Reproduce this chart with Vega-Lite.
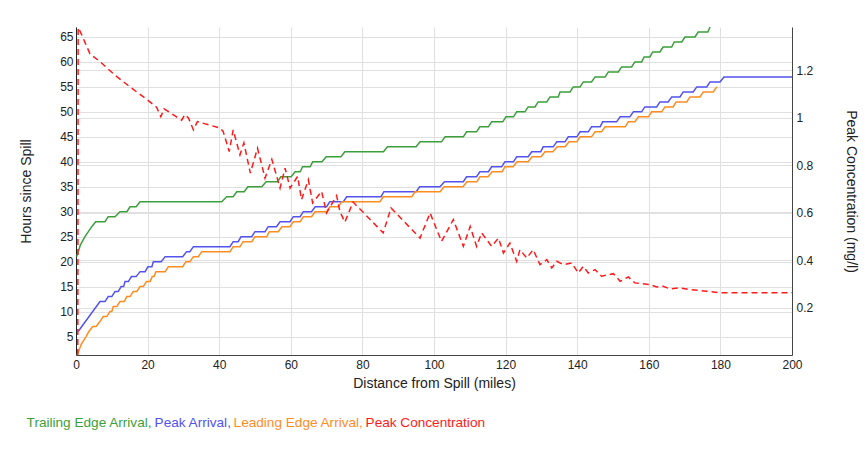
{
  "$schema": "https://vega.github.io/schema/vega-lite/v6.json",
  "width": 716,
  "height": 328,
  "autosize": {"type": "none"},
  "padding": {"left": 76, "top": 27, "right": 75, "bottom": 101},
  "background": "white",
  "config": {
    "font": "Liberation Sans",
    "view": {"stroke": null},
    "axis": {
      "labelFont": "Liberation Sans",
      "labelFontSize": 12,
      "labelColor": "#222",
      "titleFont": "Liberation Sans",
      "titleFontSize": 14,
      "titleFontWeight": "normal",
      "titleColor": "#222",
      "ticks": false,
      "domainColor": "#444",
      "gridColor": "#e0e0e0",
      "gridOpacity": 1
    }
  },
  "datasets": {
    "arr": [
      {"s":"Trailing Edge Arrival","m":0.2,"h":21},{"s":"Trailing Edge Arrival","m":1.2,"h":23.3},{"s":"Trailing Edge Arrival","m":2.5,"h":25},{"s":"Trailing Edge Arrival","m":4.4,"h":27},{"s":"Trailing Edge Arrival","m":5.5,"h":28},{"s":"Trailing Edge Arrival","m":8.1,"h":28},{"s":"Trailing Edge Arrival","m":9,"h":29},{"s":"Trailing Edge Arrival","m":10.9,"h":29},{"s":"Trailing Edge Arrival","m":12.3,"h":30},{"s":"Trailing Edge Arrival","m":14.2,"h":30},{"s":"Trailing Edge Arrival","m":15.1,"h":31},{"s":"Trailing Edge Arrival","m":16.8,"h":31},{"s":"Trailing Edge Arrival","m":17.9,"h":32},{"s":"Trailing Edge Arrival","m":40.7,"h":32},{"s":"Trailing Edge Arrival","m":42.1,"h":33},{"s":"Trailing Edge Arrival","m":43.9,"h":33},{"s":"Trailing Edge Arrival","m":44.9,"h":34},{"s":"Trailing Edge Arrival","m":47,"h":34},{"s":"Trailing Edge Arrival","m":48,"h":35},{"s":"Trailing Edge Arrival","m":51.9,"h":35},{"s":"Trailing Edge Arrival","m":53.1,"h":36},{"s":"Trailing Edge Arrival","m":56.3,"h":36},{"s":"Trailing Edge Arrival","m":57.2,"h":37},{"s":"Trailing Edge Arrival","m":60.1,"h":37},{"s":"Trailing Edge Arrival","m":61.2,"h":38},{"s":"Trailing Edge Arrival","m":62.6,"h":38},{"s":"Trailing Edge Arrival","m":63.3,"h":39},{"s":"Trailing Edge Arrival","m":65.4,"h":39},{"s":"Trailing Edge Arrival","m":66.1,"h":40},{"s":"Trailing Edge Arrival","m":68.7,"h":40},{"s":"Trailing Edge Arrival","m":69.9,"h":41},{"s":"Trailing Edge Arrival","m":74,"h":41},{"s":"Trailing Edge Arrival","m":75.1,"h":42},{"s":"Trailing Edge Arrival","m":85.9,"h":42},{"s":"Trailing Edge Arrival","m":87,"h":43},{"s":"Trailing Edge Arrival","m":95,"h":43},{"s":"Trailing Edge Arrival","m":96.1,"h":44},{"s":"Trailing Edge Arrival","m":102.1,"h":44},{"s":"Trailing Edge Arrival","m":103.1,"h":45},{"s":"Trailing Edge Arrival","m":108.2,"h":45},{"s":"Trailing Edge Arrival","m":109.1,"h":46},{"s":"Trailing Edge Arrival","m":111.9,"h":46},{"s":"Trailing Edge Arrival","m":112.8,"h":47},{"s":"Trailing Edge Arrival","m":115.2,"h":47},{"s":"Trailing Edge Arrival","m":116.1,"h":48},{"s":"Trailing Edge Arrival","m":119.2,"h":48},{"s":"Trailing Edge Arrival","m":120.1,"h":49},{"s":"Trailing Edge Arrival","m":122.2,"h":49},{"s":"Trailing Edge Arrival","m":123.1,"h":50},{"s":"Trailing Edge Arrival","m":125.4,"h":50},{"s":"Trailing Edge Arrival","m":126.3,"h":51},{"s":"Trailing Edge Arrival","m":128.2,"h":51},{"s":"Trailing Edge Arrival","m":129.1,"h":52},{"s":"Trailing Edge Arrival","m":131.5,"h":52},{"s":"Trailing Edge Arrival","m":132.4,"h":53},{"s":"Trailing Edge Arrival","m":134.7,"h":53},{"s":"Trailing Edge Arrival","m":135.2,"h":54},{"s":"Trailing Edge Arrival","m":138,"h":54},{"s":"Trailing Edge Arrival","m":138.9,"h":55},{"s":"Trailing Edge Arrival","m":140.8,"h":55},{"s":"Trailing Edge Arrival","m":141.7,"h":56},{"s":"Trailing Edge Arrival","m":144,"h":56},{"s":"Trailing Edge Arrival","m":145,"h":57},{"s":"Trailing Edge Arrival","m":147.8,"h":57},{"s":"Trailing Edge Arrival","m":148.7,"h":58},{"s":"Trailing Edge Arrival","m":151.5,"h":58},{"s":"Trailing Edge Arrival","m":152.4,"h":59},{"s":"Trailing Edge Arrival","m":155.2,"h":59},{"s":"Trailing Edge Arrival","m":156.1,"h":60},{"s":"Trailing Edge Arrival","m":158,"h":60},{"s":"Trailing Edge Arrival","m":158.7,"h":61},{"s":"Trailing Edge Arrival","m":160.3,"h":61},{"s":"Trailing Edge Arrival","m":161.1,"h":62},{"s":"Trailing Edge Arrival","m":163.1,"h":62},{"s":"Trailing Edge Arrival","m":164,"h":63},{"s":"Trailing Edge Arrival","m":166.4,"h":63},{"s":"Trailing Edge Arrival","m":167.1,"h":64},{"s":"Trailing Edge Arrival","m":169.2,"h":64},{"s":"Trailing Edge Arrival","m":170.1,"h":65},{"s":"Trailing Edge Arrival","m":172.9,"h":65},{"s":"Trailing Edge Arrival","m":173.8,"h":66},{"s":"Trailing Edge Arrival","m":176.5,"h":66},{"s":"Trailing Edge Arrival","m":177.1,"h":67},
      {"s":"Peak Arrival","m":0.6,"h":6},{"s":"Peak Arrival","m":6.7,"h":12},{"s":"Peak Arrival","m":8.1,"h":12},{"s":"Peak Arrival","m":9,"h":13},{"s":"Peak Arrival","m":10,"h":13},{"s":"Peak Arrival","m":10.9,"h":14},{"s":"Peak Arrival","m":11.8,"h":14},{"s":"Peak Arrival","m":12.6,"h":15},{"s":"Peak Arrival","m":13.3,"h":15},{"s":"Peak Arrival","m":13.7,"h":16},{"s":"Peak Arrival","m":14.6,"h":16},{"s":"Peak Arrival","m":15.5,"h":17},{"s":"Peak Arrival","m":16.8,"h":17},{"s":"Peak Arrival","m":17.9,"h":18},{"s":"Peak Arrival","m":19.3,"h":18},{"s":"Peak Arrival","m":20.1,"h":19},{"s":"Peak Arrival","m":21.2,"h":19},{"s":"Peak Arrival","m":21.6,"h":20},{"s":"Peak Arrival","m":23.8,"h":20},{"s":"Peak Arrival","m":24.9,"h":21},{"s":"Peak Arrival","m":29.8,"h":21},{"s":"Peak Arrival","m":30.9,"h":22},{"s":"Peak Arrival","m":31.8,"h":22},{"s":"Peak Arrival","m":32.8,"h":23},{"s":"Peak Arrival","m":43,"h":23},{"s":"Peak Arrival","m":43.9,"h":24},{"s":"Peak Arrival","m":45.3,"h":24},{"s":"Peak Arrival","m":46.1,"h":25},{"s":"Peak Arrival","m":49.1,"h":25},{"s":"Peak Arrival","m":50,"h":26},{"s":"Peak Arrival","m":52.8,"h":26},{"s":"Peak Arrival","m":53.7,"h":27},{"s":"Peak Arrival","m":56,"h":27},{"s":"Peak Arrival","m":57,"h":28},{"s":"Peak Arrival","m":59.8,"h":28},{"s":"Peak Arrival","m":60.7,"h":29},{"s":"Peak Arrival","m":62.6,"h":29},{"s":"Peak Arrival","m":63.5,"h":30},{"s":"Peak Arrival","m":65.8,"h":30},{"s":"Peak Arrival","m":66.8,"h":31},{"s":"Peak Arrival","m":70,"h":31},{"s":"Peak Arrival","m":70.9,"h":32},{"s":"Peak Arrival","m":74.7,"h":32},{"s":"Peak Arrival","m":75.6,"h":33},{"s":"Peak Arrival","m":85.2,"h":33},{"s":"Peak Arrival","m":86,"h":34},{"s":"Peak Arrival","m":95,"h":34},{"s":"Peak Arrival","m":96,"h":35},{"s":"Peak Arrival","m":101.7,"h":35},{"s":"Peak Arrival","m":102.9,"h":36},{"s":"Peak Arrival","m":108.2,"h":36},{"s":"Peak Arrival","m":109.1,"h":37},{"s":"Peak Arrival","m":111.9,"h":37},{"s":"Peak Arrival","m":112.8,"h":38},{"s":"Peak Arrival","m":115.2,"h":38},{"s":"Peak Arrival","m":116.1,"h":39},{"s":"Peak Arrival","m":118.9,"h":39},{"s":"Peak Arrival","m":119.8,"h":40},{"s":"Peak Arrival","m":122.2,"h":40},{"s":"Peak Arrival","m":123.1,"h":41},{"s":"Peak Arrival","m":126.3,"h":41},{"s":"Peak Arrival","m":127.3,"h":42},{"s":"Peak Arrival","m":129.8,"h":42},{"s":"Peak Arrival","m":130.5,"h":43},{"s":"Peak Arrival","m":133.3,"h":43},{"s":"Peak Arrival","m":134.3,"h":44},{"s":"Peak Arrival","m":136.6,"h":44},{"s":"Peak Arrival","m":137.5,"h":45},{"s":"Peak Arrival","m":139.9,"h":45},{"s":"Peak Arrival","m":140.8,"h":46},{"s":"Peak Arrival","m":143.1,"h":46},{"s":"Peak Arrival","m":144,"h":47},{"s":"Peak Arrival","m":146.4,"h":47},{"s":"Peak Arrival","m":147.1,"h":48},{"s":"Peak Arrival","m":151,"h":48},{"s":"Peak Arrival","m":152,"h":49},{"s":"Peak Arrival","m":154.7,"h":49},{"s":"Peak Arrival","m":155.7,"h":50},{"s":"Peak Arrival","m":158,"h":50},{"s":"Peak Arrival","m":158.9,"h":51},{"s":"Peak Arrival","m":162.2,"h":51},{"s":"Peak Arrival","m":163.1,"h":52},{"s":"Peak Arrival","m":165.4,"h":52},{"s":"Peak Arrival","m":166.4,"h":53},{"s":"Peak Arrival","m":168.7,"h":53},{"s":"Peak Arrival","m":169.6,"h":54},{"s":"Peak Arrival","m":172.4,"h":54},{"s":"Peak Arrival","m":173.4,"h":55},{"s":"Peak Arrival","m":176.2,"h":55},{"s":"Peak Arrival","m":177.1,"h":56},{"s":"Peak Arrival","m":179.9,"h":56},{"s":"Peak Arrival","m":181,"h":57},{"s":"Peak Arrival","m":200,"h":57},
      {"s":"Leading Edge Arrival","m":0.3,"h":1.3},{"s":"Leading Edge Arrival","m":0.8,"h":2.2},{"s":"Leading Edge Arrival","m":1.5,"h":3.5},{"s":"Leading Edge Arrival","m":2.8,"h":5},{"s":"Leading Edge Arrival","m":3.6,"h":6},{"s":"Leading Edge Arrival","m":4.7,"h":7},{"s":"Leading Edge Arrival","m":5.6,"h":7},{"s":"Leading Edge Arrival","m":6.7,"h":8},{"s":"Leading Edge Arrival","m":7.6,"h":9},{"s":"Leading Edge Arrival","m":8.6,"h":9},{"s":"Leading Edge Arrival","m":9.5,"h":10},{"s":"Leading Edge Arrival","m":10,"h":10},{"s":"Leading Edge Arrival","m":10.4,"h":11},{"s":"Leading Edge Arrival","m":11.4,"h":11},{"s":"Leading Edge Arrival","m":12.3,"h":12},{"s":"Leading Edge Arrival","m":13.5,"h":12},{"s":"Leading Edge Arrival","m":14.2,"h":13},{"s":"Leading Edge Arrival","m":15.1,"h":13},{"s":"Leading Edge Arrival","m":16,"h":14},{"s":"Leading Edge Arrival","m":17,"h":14},{"s":"Leading Edge Arrival","m":17.9,"h":15},{"s":"Leading Edge Arrival","m":18.8,"h":15},{"s":"Leading Edge Arrival","m":19.7,"h":16},{"s":"Leading Edge Arrival","m":20.7,"h":16},{"s":"Leading Edge Arrival","m":21.3,"h":17},{"s":"Leading Edge Arrival","m":21.8,"h":17},{"s":"Leading Edge Arrival","m":22.3,"h":18},{"s":"Leading Edge Arrival","m":24.9,"h":18},{"s":"Leading Edge Arrival","m":25.8,"h":19},{"s":"Leading Edge Arrival","m":29.8,"h":19},{"s":"Leading Edge Arrival","m":30.7,"h":20},{"s":"Leading Edge Arrival","m":31.8,"h":20},{"s":"Leading Edge Arrival","m":32.8,"h":21},{"s":"Leading Edge Arrival","m":34.2,"h":21},{"s":"Leading Edge Arrival","m":35.1,"h":22},{"s":"Leading Edge Arrival","m":43,"h":22},{"s":"Leading Edge Arrival","m":43.9,"h":23},{"s":"Leading Edge Arrival","m":45.8,"h":23},{"s":"Leading Edge Arrival","m":46.7,"h":24},{"s":"Leading Edge Arrival","m":49.1,"h":24},{"s":"Leading Edge Arrival","m":50,"h":25},{"s":"Leading Edge Arrival","m":53.3,"h":25},{"s":"Leading Edge Arrival","m":54,"h":26},{"s":"Leading Edge Arrival","m":56.5,"h":26},{"s":"Leading Edge Arrival","m":57.5,"h":27},{"s":"Leading Edge Arrival","m":59.8,"h":27},{"s":"Leading Edge Arrival","m":60.7,"h":28},{"s":"Leading Edge Arrival","m":62.6,"h":28},{"s":"Leading Edge Arrival","m":63.5,"h":29},{"s":"Leading Edge Arrival","m":65.8,"h":29},{"s":"Leading Edge Arrival","m":66.8,"h":30},{"s":"Leading Edge Arrival","m":70,"h":30},{"s":"Leading Edge Arrival","m":70.9,"h":31},{"s":"Leading Edge Arrival","m":73.3,"h":31},{"s":"Leading Edge Arrival","m":74.2,"h":32},{"s":"Leading Edge Arrival","m":84.9,"h":32},{"s":"Leading Edge Arrival","m":85.8,"h":33},{"s":"Leading Edge Arrival","m":93.8,"h":33},{"s":"Leading Edge Arrival","m":94.7,"h":34},{"s":"Leading Edge Arrival","m":101.7,"h":34},{"s":"Leading Edge Arrival","m":102.8,"h":35},{"s":"Leading Edge Arrival","m":108.1,"h":35},{"s":"Leading Edge Arrival","m":109.2,"h":36},{"s":"Leading Edge Arrival","m":112,"h":36},{"s":"Leading Edge Arrival","m":112.8,"h":37},{"s":"Leading Edge Arrival","m":115.1,"h":37},{"s":"Leading Edge Arrival","m":116.2,"h":38},{"s":"Leading Edge Arrival","m":119,"h":38},{"s":"Leading Edge Arrival","m":119.8,"h":39},{"s":"Leading Edge Arrival","m":122.1,"h":39},{"s":"Leading Edge Arrival","m":123.2,"h":40},{"s":"Leading Edge Arrival","m":126.3,"h":40},{"s":"Leading Edge Arrival","m":127.4,"h":41},{"s":"Leading Edge Arrival","m":129.9,"h":41},{"s":"Leading Edge Arrival","m":131,"h":42},{"s":"Leading Edge Arrival","m":133.2,"h":42},{"s":"Leading Edge Arrival","m":134.4,"h":43},{"s":"Leading Edge Arrival","m":136.6,"h":43},{"s":"Leading Edge Arrival","m":137.7,"h":44},{"s":"Leading Edge Arrival","m":139.9,"h":44},{"s":"Leading Edge Arrival","m":140.8,"h":45},{"s":"Leading Edge Arrival","m":144,"h":45},{"s":"Leading Edge Arrival","m":145,"h":46},{"s":"Leading Edge Arrival","m":146.8,"h":46},{"s":"Leading Edge Arrival","m":147.8,"h":47},{"s":"Leading Edge Arrival","m":153.4,"h":47},{"s":"Leading Edge Arrival","m":154.3,"h":48},{"s":"Leading Edge Arrival","m":156.1,"h":48},{"s":"Leading Edge Arrival","m":157.1,"h":49},{"s":"Leading Edge Arrival","m":159.9,"h":49},{"s":"Leading Edge Arrival","m":160.8,"h":50},{"s":"Leading Edge Arrival","m":163.6,"h":50},{"s":"Leading Edge Arrival","m":164.5,"h":51},{"s":"Leading Edge Arrival","m":166.8,"h":51},{"s":"Leading Edge Arrival","m":167.6,"h":52},{"s":"Leading Edge Arrival","m":170.6,"h":52},{"s":"Leading Edge Arrival","m":171.5,"h":53},{"s":"Leading Edge Arrival","m":174.3,"h":53},{"s":"Leading Edge Arrival","m":175.2,"h":54},{"s":"Leading Edge Arrival","m":178,"h":54},{"s":"Leading Edge Arrival","m":179,"h":55}
    ],
    "conc": [
      {"m":0.5,"c":0},{"m":0.6,"c":1.38},{"m":1.3,"c":1.36},{"m":3.9,"c":1.27},{"m":6.7,"c":1.237},{"m":10.9,"c":1.18},{"m":15.1,"c":1.13},{"m":19.3,"c":1.083},{"m":22.5,"c":1.045},{"m":23.7,"c":1.005},{"m":24.6,"c":1.038},{"m":29.5,"c":0.99},{"m":30.4,"c":1.013},{"m":31.4,"c":1.0},{"m":32.8,"c":0.949},{"m":33.9,"c":0.984},{"m":40.2,"c":0.957},{"m":41.1,"c":0.943},{"m":42.8,"c":0.858},{"m":43.9,"c":0.949},{"m":45.8,"c":0.844},{"m":46.9,"c":0.894},{"m":48.7,"c":0.767},{"m":50.7,"c":0.872},{"m":52.8,"c":0.746},{"m":54.7,"c":0.825},{"m":57,"c":0.704},{"m":58.4,"c":0.788},{"m":59.8,"c":0.704},{"m":61.9,"c":0.753},{"m":63,"c":0.655},{"m":64.9,"c":0.739},{"m":66.1,"c":0.641},{"m":68.6,"c":0.69},{"m":70,"c":0.599},{"m":72.8,"c":0.672},{"m":73.7,"c":0.606},{"m":75.1,"c":0.56},{"m":77.4,"c":0.645},{"m":85.8,"c":0.515},{"m":88,"c":0.62},{"m":96.1,"c":0.493},{"m":98.9,"c":0.599},{"m":102.1,"c":0.479},{"m":105.4,"c":0.571},{"m":108.2,"c":0.458},{"m":110.1,"c":0.542},{"m":111.9,"c":0.458},{"m":113.3,"c":0.515},{"m":116.1,"c":0.458},{"m":118,"c":0.493},{"m":119.4,"c":0.43},{"m":121.2,"c":0.472},{"m":123.1,"c":0.395},{"m":124,"c":0.444},{"m":125.9,"c":0.409},{"m":127.7,"c":0.444},{"m":129.6,"c":0.381},{"m":131.5,"c":0.402},{"m":132.9,"c":0.367},{"m":134.3,"c":0.395},{"m":136.1,"c":0.381},{"m":138.5,"c":0.388},{"m":140.3,"c":0.346},{"m":141.7,"c":0.374},{"m":143.1,"c":0.346},{"m":145,"c":0.36},{"m":146.8,"c":0.332},{"m":150.1,"c":0.343},{"m":152,"c":0.311},{"m":154.3,"c":0.329},{"m":156.1,"c":0.304},{"m":160.3,"c":0.297},{"m":162.2,"c":0.287},{"m":164,"c":0.29},{"m":165.9,"c":0.279},{"m":168.7,"c":0.283},{"m":171.5,"c":0.276},{"m":176.2,"c":0.269},{"m":180.4,"c":0.262},{"m":200,"c":0.262}
    ]
  },
  "layer": [
    {
      "data": {"name": "arr"},
      "mark": {"type": "line", "strokeWidth": 1.5, "interpolate": "linear"},
      "encoding": {
        "x": {
          "field": "m", "type": "quantitative",
          "scale": {"domain": [0, 200], "nice": false},
          "axis": {"title": "Distance from Spill (miles)", "values": [0,20,40,60,80,100,120,140,160,180,200], "labelPadding": 4, "titlePadding": 6, "labelFlush": false, "grid": true}
        },
        "y": {
          "field": "h", "type": "quantitative",
          "scale": {"domain": [1.3, 67], "nice": false, "zero": false},
          "axis": {"title": "Hours since Spill", "orient": "left", "values": [5,10,15,20,25,30,35,40,45,50,55,60,65], "labelPadding": 3, "titlePadding": 26, "domainColor": "#222", "grid": true}
        },
        "color": {
          "field": "s", "type": "nominal",
          "scale": {
            "domain": ["Trailing Edge Arrival", "Peak Arrival", "Leading Edge Arrival", "Peak Concentration"],
            "range": ["#3c9f3c", "#5252ee", "#ff8c1f", "#ff1a1a"]
          },
          "legend": {
            "title": null,
            "orient": "none",
            "legendX": -51,
            "legendY": 389,
            "direction": "horizontal",
            "symbolSize": 0,
            "symbolStrokeWidth": 0,
            "symbolOpacity": 0,
            "labelOffset": -12,
            "columnPadding": 0,
            "labelFont": "Liberation Sans",
            "labelFontSize": 13.6,
            "labelExpr": "datum.label == 'Peak Concentration' ? datum.label : datum.label + ','",
            "labelLimit": 400,
            "encode": {"labels": {"update": {"fill": {"scale": "color", "field": "value"}}}}
          }
        }
      }
    },
    {
      "data": {"name": "conc"},
      "mark": {"type": "line", "strokeWidth": 1.5, "strokeDash": [6, 4]},
      "encoding": {
        "x": {"field": "m", "type": "quantitative"},
        "y": {
          "field": "c", "type": "quantitative",
          "scale": {"domain": [0, 1.383], "nice": false},
          "axis": {"title": "Peak Concentration (mg/l)", "orient": "right", "values": [0.2,0.4,0.6,0.8,1.0,1.2], "format": "~g", "labelPadding": 4, "titlePadding": 31, "grid": true}
        },
        "color": {"datum": "Peak Concentration"}
      }
    },
    {
      "mark": {"type": "rule", "color": "#ff1a1a", "strokeWidth": 1.5},
      "encoding": {"x": {"datum": 0.3}}
    }
  ],
  "resolve": {"scale": {"y": "independent"}}
}
